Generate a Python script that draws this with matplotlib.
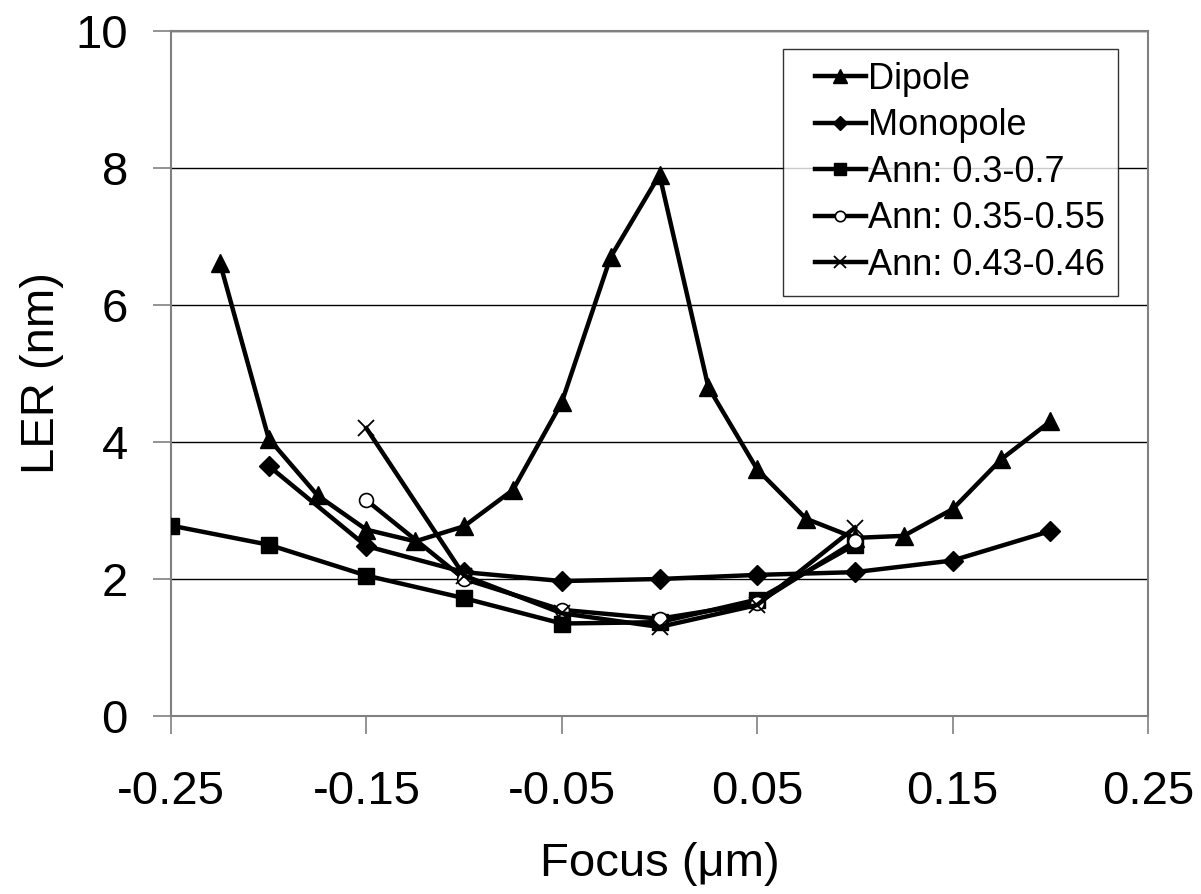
import matplotlib
matplotlib.use("Agg")
import matplotlib.pyplot as plt
from matplotlib.legend_handler import HandlerLine2D

plt.rcParams['font.family'] = ['Liberation Sans', 'DejaVu Sans']

dipole_x = [-0.225, -0.2, -0.175, -0.15, -0.125, -0.1, -0.075, -0.05, -0.025, 0.0,
            0.025, 0.05, 0.075, 0.1, 0.125, 0.15, 0.175, 0.2]
dipole_y = [6.62, 4.05, 3.22, 2.72, 2.55, 2.77, 3.3, 4.58, 6.7, 7.9,
            4.8, 3.6, 2.88, 2.6, 2.63, 3.02, 3.75, 4.3]

mono_x = [-0.2, -0.15, -0.1, -0.05, 0.0, 0.05, 0.1, 0.15, 0.2]
mono_y = [3.65, 2.48, 2.1, 1.97, 2.0, 2.06, 2.1, 2.27, 2.7]

ann1_x = [-0.25, -0.2, -0.15, -0.1, -0.05, 0.0, 0.05, 0.1]
ann1_y = [2.78, 2.5, 2.05, 1.72, 1.35, 1.37, 1.7, 2.5]

ann2_x = [-0.15, -0.1, -0.05, 0.0, 0.05, 0.1]
ann2_y = [3.15, 2.0, 1.55, 1.42, 1.65, 2.55]

ann3_x = [-0.15, -0.1, -0.05, 0.0, 0.05, 0.1]
ann3_y = [4.2, 2.05, 1.5, 1.3, 1.62, 2.75]

labels = ["Dipole", "Monopole", "Ann: 0.3-0.7", "Ann: 0.35-0.55", "Ann: 0.43-0.46"]
xticks = [-0.25, -0.15, -0.05, 0.05, 0.15, 0.25]
xticklabels = ["-0.25", "-0.15", "-0.05", "0.05", "0.15", "0.25"]
yticks = [0, 2, 4, 6, 8, 10]

fig = plt.figure(figsize=(12.01, 8.94), dpi=100)
ax = fig.add_axes([171/1201, 1-716/894, (1148-171)/1201, (716-31)/894])

lw = 3.2
ax.plot(dipole_x, dipole_y, color='black', lw=lw, marker='^', ms=13, label=labels[0], zorder=3)
ax.plot(mono_x, mono_y, color='black', lw=lw, marker='D', ms=10, label=labels[1], zorder=3)
ax.plot(ann1_x, ann1_y, color='black', lw=lw, marker='s', ms=12, label=labels[2], zorder=3)
ax.plot(ann2_x, ann2_y, color='black', lw=lw, marker='o', ms=10, mfc='white', mew=1.2,
        label=labels[3], zorder=3)
ax.plot(ann3_x, ann3_y, color='black', lw=lw, marker='x', ms=11, mew=1.3, label=labels[4], zorder=3)

ax.set_xlim(-0.25, 0.25)
ax.set_ylim(0, 10)
ax.set_xticks(xticks)
ax.set_xticklabels(xticklabels)
ax.set_yticks(yticks)
ax.yaxis.grid(True, color='black', lw=1.0)
ax.set_axisbelow(True)
for s in ax.spines.values():
    s.set_color('#808080')
    s.set_linewidth(1.5)
ax.tick_params(axis='both', labelsize=34, length=13, width=1.2, color='#808080')
ax.tick_params(axis='y', pad=18)
ax.tick_params(axis='x', pad=26)
ax.set_xlabel("Focus (\u03bcm)", fontsize=34, labelpad=20)
ax.set_ylabel("LER (nm)", fontsize=34, labelpad=8)

xpad = 0.55
leg = ax.legend(loc='upper right', fontsize=26, frameon=True, fancybox=False,
                edgecolor='black', handlelength=1.4 + xpad, handletextpad=0.08,
                borderpad=0.35, labelspacing=0.32, borderaxespad=0.0,
                handler_map={matplotlib.lines.Line2D: HandlerLine2D(xpad=xpad)})
leg.get_frame().set_linewidth(1.0)
leg.set_bbox_to_anchor((1118/1201, 1-49/894), transform=fig.transFigure)
for h in leg.legend_handles:
    h.set_markersize(h.get_markersize() * 0.75)

fig.savefig("out.png", dpi=100)
